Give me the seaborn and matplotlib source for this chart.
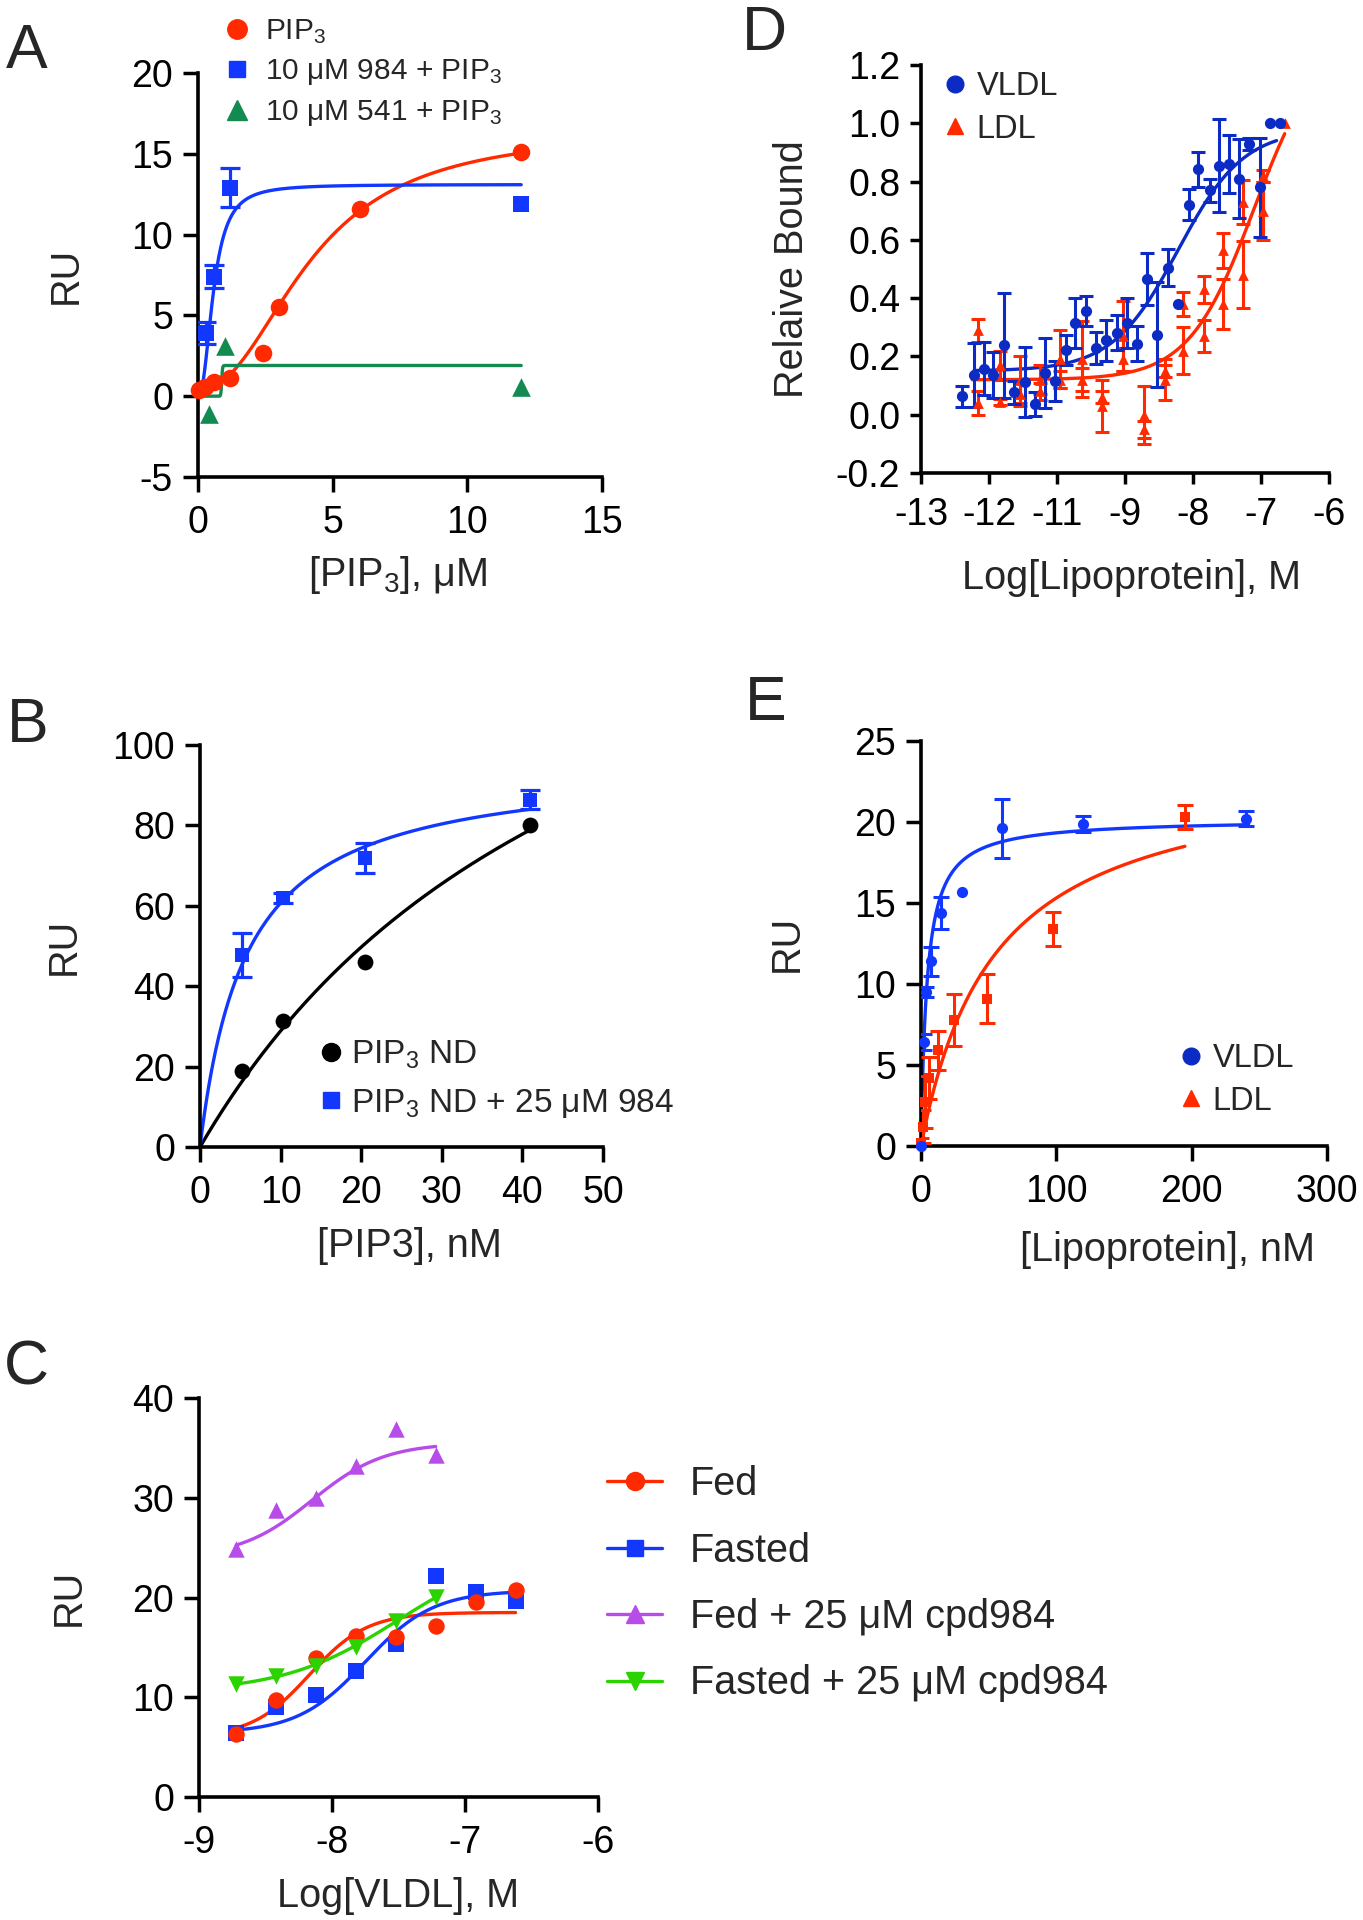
import numpy as np
import matplotlib
matplotlib.use("Agg")
import matplotlib.pyplot as plt
import seaborn as sns
from matplotlib.lines import Line2D
from matplotlib.ticker import FormatStrFormatter

# ---------------- data ----------------
# Panel A : RU vs [PIP3] (uM)
a_pip3_x = [0.05, 0.25, 0.6, 1.2, 2.4, 3.0, 6.0, 12.0]
a_pip3_y = [0.4, 0.6, 0.9, 1.1, 2.7, 5.5, 11.6, 15.1]
a_984_x = [0.3, 0.6, 1.2, 12.0]
a_984_y = [3.9, 7.4, 12.9, 11.9]
a_984_err = [0.7, 0.7, 1.2, 0.0]
a_541_x = [0.4, 1.0, 12.0]
a_541_y = [-1.1, 3.1, 0.6]
# Hill fits (bottom, top, K, n)
a_pip3_fit = (0.4, 16.5, 4.2, 2.2)
a_984_fit = (0.0, 13.1, 0.58, 2.3)
a_541_fit = (0.0, 1.9, 0.88, 60.0)

# Panel B : RU vs [PIP3] (nM)
b_nd_x = [5.2, 10.3, 20.5, 41.0]
b_nd_y = [18.9, 31.3, 45.9, 80.1]
b_984_x = [5.2, 10.3, 20.5, 41.0]
b_984_y = [47.8, 61.9, 71.8, 86.4]
b_984_err = [5.4, 1.2, 3.7, 2.3]
# one-site fits (Bmax, Kd)
b_nd_fit = (179.0, 52.0)
b_984_fit = (95.9, 5.8)

# Panel C : RU vs Log[VLDL]
c_x = [-8.72, -8.42, -8.12, -7.82, -7.52, -7.22, -6.92, -6.62]
c_fed = [6.3, 9.7, 13.9, 16.1, 16.0, 17.1, 19.5, 20.8]
c_fasted = [6.4, 9.0, 10.2, 12.6, 15.3, 22.2, 20.6, 19.6]
c_fed_cpd = [24.9, 28.8, 30.0, 33.2, 36.9, 34.3]
c_fasted_cpd = [11.3, 12.1, 13.1, 15.0, 17.6, 20.1]
# sigmoid fits (bottom, top, logEC50, hill)
c_fed_fit = (6.0, 18.5, -8.17, 2.0)
c_fasted_fit = (6.4, 20.7, -7.75, 1.7)
c_fed_cpd_fit = (24.0, 35.5, -8.15, 1.6)
c_fasted_cpd_fit = (10.5, 25.0, -7.5, 1.0)

# Panel D : relative bound vs Log[Lipoprotein]
d_vldl_x = [-12.29, -12.09, -11.92, -11.76, -11.58, -11.41, -11.22, -11.04,
            -10.87, -10.70, -10.52, -10.36, -10.17, -9.99, -9.82, -9.64,
            -9.46, -9.29, -9.12, -8.95, -8.77, -8.59, -8.40, -8.24,
            -8.05, -7.89, -7.71, -7.54, -7.37, -7.18, -7.01, -6.84]
d_vldl_y = [0.063, 0.136, 0.158, 0.136, 0.239, 0.077, 0.113, 0.037,
            0.142, 0.116, 0.222, 0.314, 0.356, 0.228, 0.255, 0.281,
            0.314, 0.244, 0.466, 0.274, 0.505, 0.38, 0.72, 0.842,
            0.77, 0.855, 0.86, 0.81, 0.93, 0.78, 1.0, 1.0]
d_vldl_err = [0.035, 0.11, 0.09, 0.08, 0.18, 0.04, 0.12, 0.04,
              0.12, 0.07, 0.05, 0.085, 0.05, 0.055, 0.07, 0.06,
              0.085, 0.06, 0.09, 0.18, 0.065, 0.0, 0.053, 0.06,
              0.04, 0.16, 0.10, 0.135, 0.02, 0.17, 0.0, 0.0]
d_ldl_x = [-12.02, -12.02, -11.65, -11.65, -11.30, -11.30, -10.96, -10.96,
           -10.62, -10.62, -10.24, -10.24, -9.90, -9.90, -9.53, -9.53,
           -9.17, -9.17, -8.81, -8.81, -8.51, -8.51, -8.15, -8.15,
           -7.82, -7.82, -7.47, -7.47, -7.13, -7.13, -6.76]
d_ldl_y = [0.29, 0.04, 0.17, 0.045, 0.12, 0.07, 0.12, 0.08,
           0.19, 0.12, 0.19, 0.12, 0.06, 0.03, 0.27, 0.19,
           0.0, -0.05, 0.15, 0.12, 0.38, 0.22, 0.43, 0.27,
           0.565, 0.38, 0.73, 0.48, 0.82, 0.70, 1.0]
d_ldl_err = [0.04, 0.04, 0.05, 0.01, 0.08, 0.04, 0.05, 0.03,
             0.10, 0.03, 0.13, 0.04, 0.02, 0.09, 0.12, 0.04,
             0.10, 0.03, 0.02, 0.07, 0.04, 0.08, 0.045, 0.055,
             0.06, 0.085, 0.075, 0.115, 0.02, 0.10, 0.0]
d_vldl_fit = (0.15, 0.98, -8.59, 0.77)
d_ldl_fit = (0.12, 1.30, -7.28, 0.77)

# Panel E : RU vs [Lipoprotein] (nM)
e_vldl_x = [0, 1.9, 3.75, 7.5, 15, 30, 60, 120, 240]
e_vldl_y = [0.0, 6.4, 9.5, 11.4, 14.4, 15.7, 19.6, 19.9, 20.2]
e_vldl_err = [0.0, 0.5, 0.3, 0.9, 1.0, 0.0, 1.85, 0.5, 0.45]
e_ldl_x = [0, 1.5, 3.05, 6.1, 12.2, 24.4, 48.75, 97.5, 195]
e_ldl_y = [0.2, 1.2, 2.7, 4.2, 5.9, 7.8, 9.1, 13.4, 20.3]
e_ldl_err = [0.3, 1.0, 1.6, 1.3, 1.2, 1.6, 1.5, 1.05, 0.75]
e_vldl_fit = (20.2, 4.5)
e_ldl_fit = (23.7, 54.8)

RED = "#FF2A00"
BLUE = "#1238FF"
DBLUE = "#0B2BC4"
GREEN = "#138A50"
PURPLE = "#B84CE8"
LGREEN = "#2BD400"

TICK_FS = 27
LABEL_FS = 28.5


def hill(x, b, t, k, n):
    return b + (t - b) / (1 + (k / x) ** n)


def one_site(x, bmax, kd):
    return bmax * x / (kd + x)


def sigmoid(x, b, t, c, h):
    return b + (t - b) / (1 + 10 ** ((c - x) * h))


# ---------------- figure ----------------
sns.set_style("ticks")
plt.rcParams["font.family"] = ["Liberation Sans", "DejaVu Sans"]
plt.rcParams["mathtext.fontset"] = "custom"
plt.rcParams["mathtext.rm"] = "Liberation Sans"
plt.rcParams["mathtext.it"] = "Liberation Sans:italic"
plt.rcParams["mathtext.default"] = "regular"
plt.rcParams["axes.unicode_minus"] = False

W, H = 1363, 1920
fig = plt.figure(figsize=(W / 100, H / 100), dpi=100)


def add_ax(l, t, r, b):
    return fig.add_axes([l / W, 1 - b / H, (r - l) / W, (b - t) / H])


def style(ax, fs=TICK_FS, tl=11):
    sns.despine(ax=ax)
    for s in ["left", "bottom"]:
        ax.spines[s].set_linewidth(2.6)
        ax.spines[s].set_color("black")
    ax.tick_params(direction="out", length=tl, width=2.5, labelsize=fs,
                   color="black", labelcolor="black")
    ax.tick_params(axis="x", pad=9)
    ax.tick_params(axis="y", pad=7)
    ax.set_facecolor("none")


def curve(ax, xs, ys, color):
    sns.lineplot(x=xs, y=ys, ax=ax, color=color, lw=2.4, estimator=None,
                 sort=False, zorder=2)


def points(ax, x, y, color, marker, s):
    sns.scatterplot(x=x, y=y, ax=ax, color=color, marker=marker, s=s,
                    edgecolor=color, linewidth=0, zorder=4, clip_on=False)


def errs(ax, x, y, e, color, cap=6, lw=2.3):
    x = np.asarray(x); y = np.asarray(y); e = np.asarray(e)
    m = e > 0
    ax.errorbar(x[m], y[m], yerr=e[m], fmt="none", ecolor=color,
                elinewidth=lw, capsize=cap, capthick=lw, zorder=3)


def place_legend(ax, handles, labels, left, top, fs, hl, tp, ls):
    ax.legend(handles, labels, loc="upper left",
              bbox_to_anchor=(left / W, 1 - top / H),
              bbox_transform=fig.transFigure, frameon=False, fontsize=fs,
              handlelength=hl, handletextpad=tp, labelspacing=ls,
              borderpad=0, borderaxespad=0)


# ---- Panel A ----
axA = add_ax(198, 73, 602, 477)
xs = np.linspace(0.05, 12, 400)
curve(axA, xs, hill(xs, *a_pip3_fit), RED)
xs = np.linspace(0.12, 12, 600)
curve(axA, xs, hill(xs, *a_984_fit), BLUE)
xs = np.linspace(0.1, 12, 2000)
curve(axA, xs, hill(xs, *a_541_fit), GREEN)
errs(axA, a_984_x, a_984_y, a_984_err, BLUE, cap=7)
points(axA, a_541_x, a_541_y, GREEN, "^", 180)
points(axA, a_984_x, a_984_y, BLUE, "s", 130)
points(axA, a_pip3_x, a_pip3_y, RED, "o", 160)
axA.set_xlim(0, 15)
axA.set_ylim(-5, 20)
axA.set_xticks([0, 5, 10, 15])
axA.set_yticks([-5, 0, 5, 10, 15, 20])
style(axA)
axA.set_xlabel(r"[PIP$_3$], μM", fontsize=LABEL_FS)
axA.set_ylabel("RU", fontsize=LABEL_FS)
axA.xaxis.set_label_coords(0.495, -0.19)
axA.yaxis.set_label_coords(-0.28, 0.5)
hA = [Line2D([], [], ls="none", marker="o", color=RED, markersize=14),
      Line2D([], [], ls="none", marker="s", color=BLUE, markersize=12),
      Line2D([], [], ls="none", marker="^", color=GREEN, markersize=14)]
place_legend(axA, hA, [r"PIP$_3$", r"10 μM 984 + PIP$_3$", r"10 μM 541 + PIP$_3$"],
             222, 17, 21.5, 1.0, 0.45, 0.38)

# ---- Panel B ----
axB = add_ax(200, 745, 603, 1147)
xs = np.linspace(0, 41, 300)
curve(axB, xs, one_site(xs, *b_nd_fit), "black")
curve(axB, xs, one_site(xs, *b_984_fit), BLUE)
errs(axB, b_984_x, b_984_y, b_984_err, BLUE, cap=7)
points(axB, b_nd_x, b_nd_y, "black", "o", 130)
points(axB, b_984_x, b_984_y, BLUE, "s", 115)
axB.set_xlim(0, 50)
axB.set_ylim(0, 100)
axB.set_xticks([0, 10, 20, 30, 40, 50])
axB.set_yticks([0, 20, 40, 60, 80, 100])
style(axB)
axB.set_xlabel("[PIP3], nM", fontsize=LABEL_FS)
axB.set_ylabel("RU", fontsize=LABEL_FS)
axB.xaxis.set_label_coords(0.52, -0.2)
axB.yaxis.set_label_coords(-0.29, 0.5)
hB = [Line2D([], [], ls="none", marker="o", color="black", markersize=13),
      Line2D([], [], ls="none", marker="s", color=BLUE, markersize=12)]
place_legend(axB, hB, [r"PIP$_3$ ND", r"PIP$_3$ ND + 25 μM 984"],
             318, 1039, 24, 0.75, 0.25, 0.47)

# ---- Panel C ----
axC = add_ax(199, 1398, 598, 1797)
xs = np.linspace(-8.72, -6.62, 300)
curve(axC, xs, sigmoid(xs, *c_fed_fit), RED)
curve(axC, xs, sigmoid(xs, *c_fasted_fit), BLUE)
xs = np.linspace(-8.72, -7.22, 300)
curve(axC, xs, sigmoid(xs, *c_fed_cpd_fit), PURPLE)
curve(axC, xs, sigmoid(xs, *c_fasted_cpd_fit), LGREEN)
points(axC, c_x, c_fasted, BLUE, "s", 125)
points(axC, c_x, c_fed, RED, "o", 140)
points(axC, c_x[:6], c_fed_cpd, PURPLE, "^", 140)
points(axC, c_x[:6], c_fasted_cpd, LGREEN, "v", 140)
axC.set_xlim(-9, -6)
axC.set_ylim(0, 40)
axC.set_xticks([-9, -8, -7, -6])
axC.set_yticks([0, 10, 20, 30, 40])
style(axC)
axC.set_xlabel("Log[VLDL], M", fontsize=LABEL_FS)
axC.set_ylabel("RU", fontsize=LABEL_FS)
axC.xaxis.set_label_coords(0.5, -0.2)
axC.yaxis.set_label_coords(-0.28, 0.5)
hC = [Line2D([], [], marker="o", color=RED, lw=2.4, markersize=13),
      Line2D([], [], marker="s", color=BLUE, lw=2.4, markersize=12),
      Line2D([], [], marker="^", color=PURPLE, lw=2.4, markersize=13),
      Line2D([], [], marker="v", color=LGREEN, lw=2.4, markersize=13)]
place_legend(axC, hC, ["Fed", "Fasted", "Fed + 25 μM cpd984", "Fasted + 25 μM cpd984"],
             607, 1465, 28.5, 1.4, 0.7, 0.72)

# ---- Panel D ----
axD = add_ax(921, 65, 1329, 473)
xs = np.linspace(-12.09, -6.9, 300)
curve(axD, xs, sigmoid(xs, *d_vldl_fit), DBLUE)
xs = np.linspace(-12.12, -6.76, 300)
curve(axD, xs, sigmoid(xs, *d_ldl_fit), RED)
errs(axD, d_ldl_x, d_ldl_y, d_ldl_err, RED, cap=5, lw=2.2)
points(axD, d_ldl_x, d_ldl_y, RED, "^", 60)
errs(axD, d_vldl_x, d_vldl_y, d_vldl_err, DBLUE, cap=5, lw=2.2)
points(axD, d_vldl_x, d_vldl_y, DBLUE, "o", 65)
axD.set_xlim(-13, -6)
axD.set_ylim(-0.2, 1.2)
axD.set_xticks(np.linspace(-13, -6, 7))
axD.set_xticklabels(["-13", "-12", "-11", "-9", "-8", "-7", "-6"])
axD.set_yticks([-0.2, 0.0, 0.2, 0.4, 0.6, 0.8, 1.0, 1.2])
axD.yaxis.set_major_formatter(FormatStrFormatter("%.1f"))
style(axD, tl=8)
axD.set_xlabel("Log[Lipoprotein], M", fontsize=LABEL_FS)
axD.set_ylabel("Relaive Bound", fontsize=LABEL_FS)
axD.xaxis.set_label_coords(0.515, -0.21)
axD.yaxis.set_label_coords(-0.27, 0.5)
hD = [Line2D([], [], ls="none", marker="o", color=DBLUE, markersize=12),
      Line2D([], [], ls="none", marker="^", color=RED, markersize=12)]
place_legend(axD, hD, ["VLDL", "LDL"], 944, 71, 23.5, 0.7, 0.3, 0.36)

# ---- Panel E ----
axE = add_ax(921, 741, 1327, 1146)
xs = np.linspace(0, 242, 600)
curve(axE, xs, one_site(xs, *e_vldl_fit), BLUE)
xs = np.linspace(0, 195, 400)
curve(axE, xs, one_site(xs, *e_ldl_fit), RED)
errs(axE, e_ldl_x, e_ldl_y, e_ldl_err, RED, cap=6, lw=2.2)
points(axE, e_ldl_x, e_ldl_y, RED, "s", 55)
errs(axE, e_vldl_x, e_vldl_y, e_vldl_err, BLUE, cap=6, lw=2.2)
points(axE, e_vldl_x, e_vldl_y, BLUE, "o", 65)
axE.set_xlim(0, 300)
axE.set_ylim(0, 25)
axE.set_xticks([0, 100, 200, 300])
axE.set_yticks([0, 5, 10, 15, 20, 25])
style(axE)
axE.set_xlabel("[Lipoprotein], nM", fontsize=LABEL_FS)
axE.set_ylabel("RU", fontsize=LABEL_FS)
axE.xaxis.set_label_coords(0.606, -0.21)
axE.yaxis.set_label_coords(-0.285, 0.5)
hE = [Line2D([], [], ls="none", marker="o", color=DBLUE, markersize=12),
      Line2D([], [], ls="none", marker="^", color=RED, markersize=12)]
place_legend(axE, hE, ["VLDL", "LDL"], 1180, 1043, 23.5, 0.7, 0.3, 0.36)

# panel letters
for letter, (px, py) in {"A": (27, 52), "B": (28, 726), "C": (26, 1368),
                         "D": (764, 33), "E": (766, 703)}.items():
    fig.text(px / W, 1 - py / H, letter, fontsize=45, ha="center", va="center")

fig.savefig("out.png", dpi=100, facecolor="white")
